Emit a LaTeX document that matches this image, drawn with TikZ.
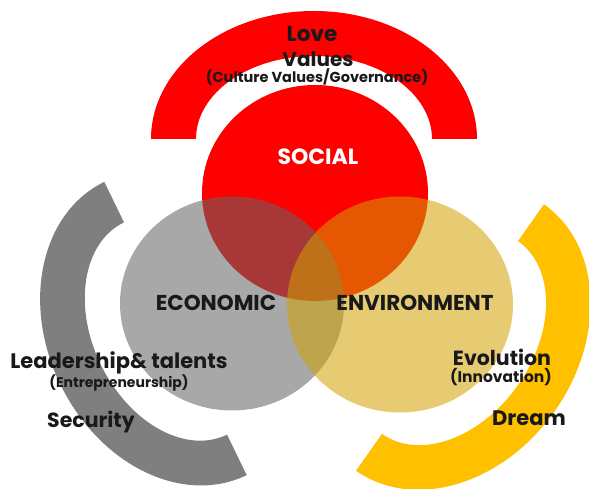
\documentclass[tikz,border=0pt]{standalone}
\usepackage{fontspec}
\setmainfont{Poppins}
\begin{document}
\begin{tikzpicture}[x=1pt,y=1pt,
  lbl/.style={text=black!90, inner sep=0pt},
  fs/.style={font=\fontsize{#1}{#1}\selectfont\bfseries}]
\definecolor{rd}{RGB}{255,0,0}
\definecolor{gy}{RGB}{127,127,127}
\definecolor{yl}{RGB}{255,192,0}
\definecolor{gc}{RGB}{100,100,100}
\definecolor{yc}{RGB}{209,160,0}
\useasboundingbox (0,0) rectangle (589,489);
\newcommand{\blkarc}[3]{\fill[#3, shift={#1}, rotate=#2] (163pt,0pt) arc[start angle=0,end angle=180,x radius=163pt,y radius=128pt] -- (-118pt,0pt) arc[start angle=180,end angle=0,x radius=118pt,y radius=83pt] -- cycle;}
% block arcs
\blkarc{(314,350)}{0}{rd}
\blkarc{(175.5,160.5)}{115.9}{gy}
\blkarc{(450,151.5)}{-125.2}{yl}
% circles
\coordinate (cs) at (315,296);
\coordinate (ce) at (232,185.5);
\coordinate (cv) at (400,184.5);
\fill[rd] (cs) ellipse [x radius=113pt, y radius=108pt];
\fill[gc, fill opacity=0.56] (ce) ellipse [x radius=112pt, y radius=107pt];
\fill[yc, fill opacity=0.55] (cv) ellipse [x radius=113pt, y radius=108pt];
% texts
\node[lbl, fs=21.5] (love) at (312,455) {Love};
\node[lbl, fs=20] (values) at (318,430) {Values};
\node[lbl, fs=14.5] (culture) at (317,412) {(Culture Values/Governance)};
\node[lbl, fs=22, text=white] (social) at (318,332) {SOCIAL};
\node[lbl, fs=21.5] (econ) at (216,186) {ECONOMIC};
\node[lbl, fs=21.5] (env) at (415,186) {ENVIRONMENT};
\node[lbl, fs=21] (lead) at (119,126) {Leadership\& talents};
\node[lbl, fs=14] (entre) at (119,106) {(Entrepreneurship)};
\node[lbl, fs=20.5] (sec) at (91,67) {Security};
\node[lbl, fs=20.5] (evo) at (502,132) {Evolution};
\node[lbl, fs=15.5] (inno) at (501,112) {(Innovation)};
\node[lbl, fs=21] (dream) at (529,71) {Dream};
\end{tikzpicture}
\end{document}
